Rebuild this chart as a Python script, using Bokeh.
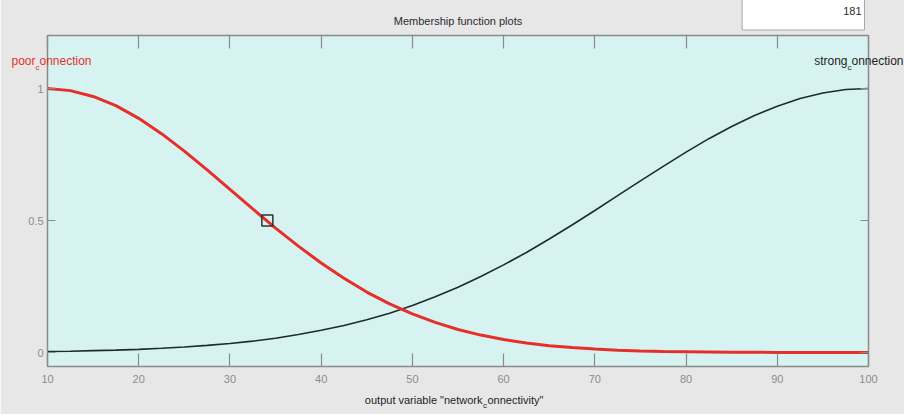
from bokeh.plotting import figure
from bokeh.models import Range1d, LinearAxis, FixedTicker, Label
from bokeh.embed import file_html
from bokeh.resources import INLINE

# ---------------- data ----------------
x_vals = [10, 12.5, 15, 17.5, 20, 22.5, 25, 27.5, 30, 32.5, 35, 37.5, 40, 42.5,
          45, 47.5, 50, 52.5, 55, 57.5, 60, 62.5, 65, 67.5, 70, 72.5, 75, 77.5,
          80, 82.5, 85, 87.5, 90, 92.5, 95, 97.5, 100]
poor_connection = [1.000, 0.992, 0.970, 0.935, 0.887, 0.829, 0.763, 0.692, 0.618,
                   0.544, 0.471, 0.403, 0.339, 0.281, 0.229, 0.184, 0.146, 0.114,
                   0.087, 0.066, 0.049, 0.036, 0.026, 0.019, 0.013, 0.009, 0.006,
                   0.004, 0.003, 0.002, 0.001, 0.001, 0.000, 0.000, 0.000, 0.000, 0.000]
strong_connection = [0.004, 0.005, 0.007, 0.009, 0.012, 0.016, 0.021, 0.027, 0.034,
                     0.043, 0.054, 0.068, 0.084, 0.102, 0.124, 0.149, 0.178, 0.211,
                     0.247, 0.288, 0.332, 0.379, 0.430, 0.483, 0.538, 0.594, 0.650,
                     0.705, 0.759, 0.810, 0.856, 0.898, 0.933, 0.962, 0.983, 0.996, 1.000]
marker_x = [34.1]
marker_y = [0.5]
x_ticks = [10, 20, 30, 40, 50, 60, 70, 80, 90, 100]
y_ticks = [0, 0.5, 1]
y_tick_labels = {0: "0", 0.5: "0.5", 1: "1"}
title_text = "Membership function plots"
box_text = "181"
poor_name = ("poor", "c", "onnection")
strong_name = ("strong", "c", "onnection")
xlabel_parts = ('output variable "network', "c", 'onnectivity"')

# ---------------- style ----------------
FONT = "Liberation Sans"
BG = "#e7e7e7"
FRAME_BG = "#d7f3f1"
AX = "#8a8a8a"
RED = "#e5302a"
DARK = "#1e2b2b"
TXT = "#1e1e1e"

FL, FR, FT, FB = 47, 868, 35, 366   # frame edges in page pixels (reference)
W, VIS_H = 904, 414                 # visible canvas size
TOP_PANEL = 250                     # room for the text annotations (panel above)
SHIFT = TOP_PANEL - FT              # hidden part of the top panel
p = figure(width=W, height=VIS_H + SHIFT,
           x_range=Range1d(10, 100), y_range=Range1d(-0.053, 1.2008),
           output_backend="svg", toolbar_location=None,
           x_axis_location=None, y_axis_location=None,
           min_border_left=FL, min_border_right=W - FR,
           min_border_top=TOP_PANEL, min_border_bottom=VIS_H - FB,
           background_fill_color=FRAME_BG, border_fill_color=BG,
           outline_line_color=AX, outline_line_width=1.5,
           styles={"margin-top": "-%dpx" % SHIFT})
for g in p.grid:
    g.visible = False


def dx(px):
    return 10 + (px - FL) * 90.0 / (FR - FL)


def dy(py):
    return (352 - py) / 264.0


def make_axis(ticks, tick_in, labels=None, size="11px", **kw):
    ax = LinearAxis(ticker=FixedTicker(ticks=ticks), major_tick_in=tick_in,
                    major_tick_out=0, minor_tick_line_color=None,
                    axis_line_color=AX, major_tick_line_color=AX,
                    major_tick_line_width=1.2,
                    major_label_text_font=FONT, major_label_text_font_size=size,
                    major_label_text_color="#8c8c8c", **kw)
    if labels is not None:
        ax.major_label_overrides = labels
    return ax


p.add_layout(make_axis(x_ticks, 13, major_label_standoff=8), "below")
p.add_layout(make_axis(x_ticks, 13, {t: "" for t in x_ticks}, size="0px",
                       major_label_standoff=0), "above")
p.add_layout(make_axis(y_ticks, 8, y_tick_labels, major_label_standoff=4), "left")
p.add_layout(make_axis(y_ticks, 8, {t: "" for t in y_ticks}, size="0px",
                       major_label_standoff=0), "right")

p.line(x_vals, strong_connection, line_color=DARK, line_width=1.6)
p.line(x_vals, poor_connection, line_color=RED, line_width=3)
p.scatter(marker_x, marker_y, marker="square", size=11, fill_color=None,
          line_color="#2a3434", line_width=1.5)


def lab(px, py, text, size, color, align="left", **kw):
    # texts reaching outside the frame live in the (tall) top panel: not clipped there
    p.add_layout(Label(x=dx(px), y=dy(py), text=text, text_align=align,
                       text_baseline="middle", text_font=FONT,
                       text_font_size=size, text_color=color, **kw), "above")


# value box at top right
lab(864, 10, box_text, "11px", "#2b2b2b", "right",
    background_fill_color="white", border_line_color="#a8a8a8",
    padding=dict(left=101, right=3, top=16, bottom=15))

# title
lab(457.5, 20, title_text, "11px", "#2b2b2b", "center")

# curve names (TeX-style subscript "c")
lab(35, 60, poor_name[0], "12px", RED, "right")
lab(37, 67, poor_name[1], "8px", RED, "center")
lab(39, 60, poor_name[2], "12px", RED, "left")
lab(903, 60, strong_name[2], "12px", TXT, "right")
lab(849, 67, strong_name[1], "8px", TXT, "center")
lab(847, 60, strong_name[0], "12px", TXT, "right")

# x axis label
lab(482, 399, xlabel_parts[0], "11px", TXT, "right")
lab(484.5, 405, xlabel_parts[1], "8px", TXT, "center")
lab(487, 399, xlabel_parts[2], "11px", TXT, "left")

open("out.html", "w").write(file_html(p, INLINE))
